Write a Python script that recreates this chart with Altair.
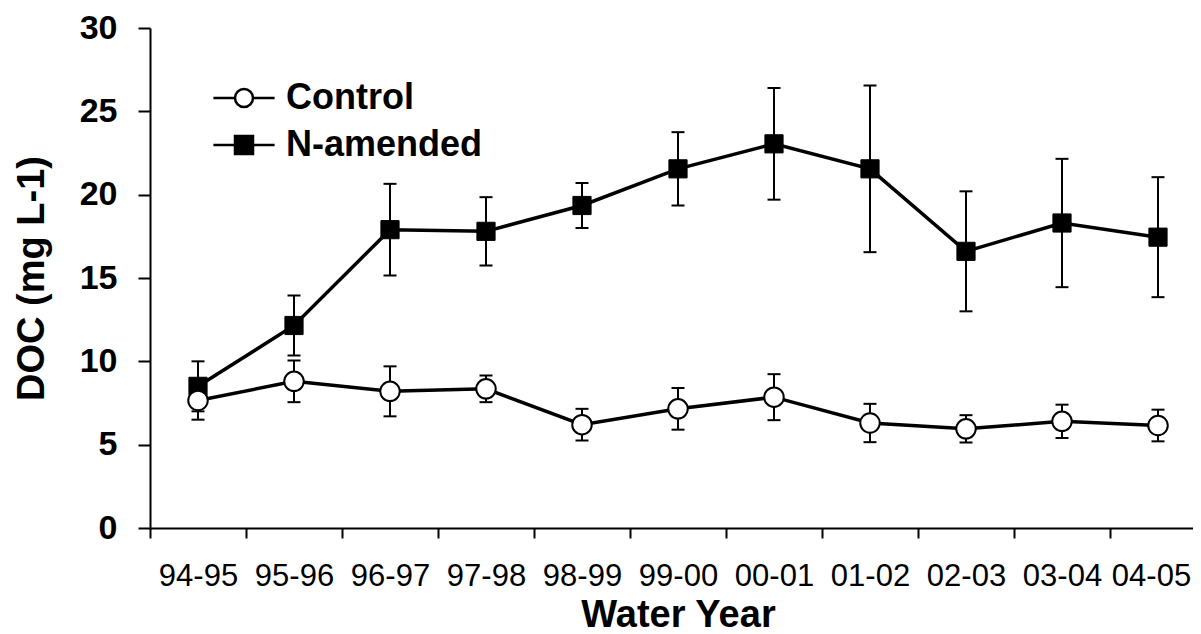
import altair as alt
import pandas as pd

years = ["94-95", "95-96", "96-97", "97-98", "98-99", "99-00",
         "00-01", "01-02", "02-03", "03-04", "04-05"]
namended_mean = [8.5, 12.15, 17.9, 17.8, 19.35, 21.55, 23.05, 21.55, 16.6, 18.3, 17.45]
namended_err = [1.5, 1.8, 2.75, 2.05, 1.35, 2.2, 3.35, 5.0, 3.6, 3.85, 3.6]
control_mean = [7.65, 8.8, 8.2, 8.35, 6.2, 7.15, 7.85, 6.3, 5.95, 6.4, 6.15]
control_err = [1.15, 1.25, 1.5, 0.8, 0.95, 1.25, 1.38, 1.15, 0.82, 1.0, 0.95]
series_names = ["N-amended", "Control"]

rows = []
for name, means, errs in [(series_names[0], namended_mean, namended_err),
                          (series_names[1], control_mean, control_err)]:
    for yr, m, e in zip(years, means, errs):
        rows.append({"year": yr, "series": name, "doc": m,
                     "lo": m - e, "hi": m + e})
df = pd.DataFrame(rows)

FONT = "Liberation Sans"
CIRCLE_PATH = "M-3.4,0H-1M1,0H3.4M-1,0A1,1 0 1,1 1,0A1,1 0 1,1 -1,0Z"
SQUARE_PATH = "M-3.4,0H3.4M-1,-1H1V1H-1Z"
LEG_DOMAIN = ["Control", "N-amended"]

x_enc = alt.X("year:N", sort=years,
              scale=alt.Scale(type="band", paddingInner=0, paddingOuter=0, range=[0, 1056]),
              axis=alt.Axis(title="Water Year", labelAngle=0, tickBand="extent",
                            labelFontSize=31, labelFont=FONT, labelColor="black",
                            labelPadding=23, tickSize=10, tickWidth=2,
                            labelOffset={"condition": {"test": "datum.value == '04-05'", "value": -7},
                                         "value": 0},
                            tickColor="black", domainColor="black", domainWidth=2,
                            titleFontSize=38, titleFont=FONT, titleFontWeight="bold",
                            titleColor="black", titlePadding=5, grid=False))

y_scale = alt.Scale(domain=[0, 30], nice=False, zero=True)
y_axis = alt.Axis(title="DOC (mg L-1)", values=[0, 5, 10, 15, 20, 25, 30],
                  labelFontSize=34, labelFont=FONT, labelFontWeight="bold",
                  labelColor="black", labelPadding=21, tickSize=12, tickWidth=2,
                  tickColor="black", domainColor="black", domainWidth=2,
                  titleFontSize=38, titleFont=FONT, titleFontWeight="bold",
                  titleColor="black", titlePadding=28, grid=False)

base = alt.Chart(df)

rules = base.mark_rule(color="black", strokeWidth=2).encode(
    x=x_enc, y=alt.Y("lo:Q", scale=y_scale, axis=y_axis), y2="hi:Q",
    detail="series:N")
caps_lo = base.mark_tick(color="black", thickness=2, size=13, opacity=1).encode(
    x=x_enc, y=alt.Y("lo:Q", scale=y_scale), detail="series:N")
caps_hi = base.mark_tick(color="black", thickness=2, size=13, opacity=1).encode(
    x=x_enc, y=alt.Y("hi:Q", scale=y_scale), detail="series:N")
lines = base.mark_line(color="black", strokeWidth=3.5).encode(
    x=x_enc, y=alt.Y("doc:Q", scale=y_scale), detail="series:N")

squares = base.transform_filter(alt.datum.series == "N-amended").mark_point(
    shape="square", filled=True, fill="black", stroke="black", strokeWidth=1,
    size=330, opacity=1).encode(x=x_enc, y=alt.Y("doc:Q", scale=y_scale))
circles = base.transform_filter(alt.datum.series == "Control").mark_point(
    shape="circle", filled=True, fill="white", stroke="black", strokeWidth=2,
    size=380, opacity=1).encode(x=x_enc, y=alt.Y("doc:Q", scale=y_scale))

legend = alt.Legend(
    title=None, orient="none", legendX=76, legendY=52, padding=0,
    symbolSize=324, labelFontSize=36, labelFont=FONT, labelFontWeight="bold",
    labelColor="black", labelOffset=24, rowPadding=11, labelLimit=400,
    symbolStrokeColor="black", symbolStrokeWidth=2.5, symbolOpacity=1)

legend_layer = base.transform_filter("false").mark_point(
    filled=True, strokeWidth=2.5, opacity=1).encode(
    x=x_enc, y=alt.Y("doc:Q", scale=y_scale),
    shape=alt.Shape("series:N",
                    scale=alt.Scale(domain=LEG_DOMAIN, range=[CIRCLE_PATH, SQUARE_PATH]),
                    legend=legend),
    fill=alt.Fill("series:N",
                  scale=alt.Scale(domain=LEG_DOMAIN, range=["white", "black"]),
                  legend=legend),
    stroke=alt.Stroke("series:N",
                      scale=alt.Scale(domain=LEG_DOMAIN, range=["black", "black"]),
                      legend=legend))

chart = alt.layer(rules, caps_lo, caps_hi, lines, squares, circles, legend_layer).properties(
    width=1043, height=500,
    autosize=alt.AutoSizeParams(type="none"),
    padding={"left": 142, "top": 20, "right": 0, "bottom": 106},
    background="white"
).configure_view(stroke=None)

chart.save("out.html", embed_options={"renderer": "svg", "actions": False})
